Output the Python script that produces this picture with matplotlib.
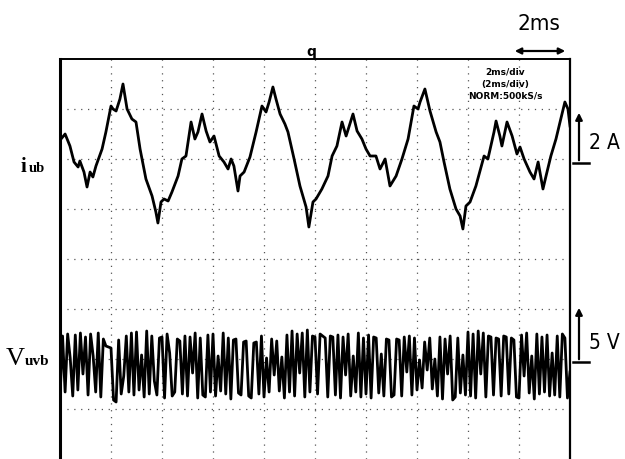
import numpy as np
import matplotlib
matplotlib.use("Agg")
import matplotlib.pyplot as plt

# ---------------- data ----------------
# time axis in ms (2 ms/div, 10 div)
t_i = [0.04, 0.20, 0.39, 0.55, 0.71, 0.78, 0.94, 1.06, 1.18, 1.29, 1.41, 1.65, 1.80, 2.00, 2.08,
       2.20, 2.35, 2.47, 2.63, 2.82, 2.98, 3.14, 3.37, 3.61, 3.76, 3.84, 3.96, 4.08, 4.24, 4.39,
       4.63, 4.78, 4.94, 5.14, 5.29, 5.41, 5.57, 5.73, 5.88, 6.04, 6.24, 6.43, 6.59, 6.71, 6.82,
       6.98, 7.06, 7.22, 7.45, 7.69, 7.92, 8.08, 8.20, 8.35, 8.47, 8.63, 8.82, 8.94, 9.18, 9.41,
       9.65, 9.76, 9.92, 10.04, 10.27, 10.51, 10.67, 10.86, 11.06, 11.22, 11.49, 11.65, 11.84, 12.00, 12.16,
       12.39, 12.55, 12.75, 12.94, 13.18, 13.41, 13.65, 13.88, 14.04, 14.12, 14.31, 14.51, 14.75, 14.90, 15.06,
       15.29, 15.53, 15.69, 15.80, 15.92, 16.08, 16.31, 16.63, 16.78, 17.02, 17.10, 17.25, 17.33, 17.53, 17.73,
       17.92, 18.04, 18.20, 18.43, 18.59, 18.75, 18.94, 19.06, 19.25, 19.45, 19.61, 19.80, 19.92, 20.00]
# branch current i_ub in A (2 A/div)
i_ub = [0.96, 1.16, 0.68, 0.04, -0.16, 0.08, -0.36, -0.96, -0.36, -0.56, -0.12, 0.56, 1.24, 2.28, 2.16,
        2.08, 2.56, 3.16, 2.16, 1.76, 1.64, 0.56, -0.64, -1.32, -1.96, -2.40, -1.56, -1.44, -1.52, -1.16,
        -0.52, 0.16, 0.28, 1.64, 0.96, 1.24, 1.96, 1.28, 0.84, 1.08, 0.28, 0.04, -0.24, 0.16, -0.12,
        -1.12, -0.52, -0.36, 0.24, 1.24, 2.28, 2.04, 2.44, 3.04, 2.56, 1.96, 1.56, 1.24, 0.16, -0.92,
        -1.76, -2.56, -1.56, -1.44, -1.04, -0.52, 0.28, 0.68, 1.64, 1.08, 1.96, 1.28, 0.96, 0.56, 0.28,
        0.28, -0.24, 0.16, -0.92, -0.52, 0.16, 0.96, 2.28, 2.16, 2.44, 2.96, 2.08, 1.24, 0.84, 0.04,
        -1.04, -1.84, -2.12, -2.64, -1.72, -1.56, -0.92, 0.28, 0.16, 1.24, 1.68, 1.08, 0.68, 1.64, 1.08,
        0.36, 0.64, 0.16, -0.36, -0.64, 0.04, -1.04, -0.52, 0.28, 0.96, 1.64, 2.44, 2.16, 1.48]

# voltage V_uvb in V (5 V/div), sampled every 0.1 ms
v_uvb = [-3.6, 2.6, -3.0, 2.8, 0.4, -3.4, 2.7, -2.8, 2.9, -1.2,
         2.5, -3.3, 2.8, 0.6, -3.0, 2.9, -3.5, 2.3, 1.6, 1.5,
         1.4, -3.8, -4.0, 2.2, -3.2, -1.4, 2.6, -3.0, 2.9, -3.3,
         3.0, -2.8, 0.7, -3.5, 3.1, -3.2, 2.6, -1.9, -3.3, 2.4,
         2.5, -3.6, 2.8, 0.9, -3.4, -3.0, 2.3, 2.1, -3.2, 2.6,
         -3.4, 2.5, -1.1, 2.9, -3.6, 2.4, -3.3, -3.5, 2.7, -3.0,
         2.8, -3.4, 0.6, -2.9, 2.9, -3.2, 2.4, -3.7, 2.2, 2.3,
         -3.1, -3.3, 2.0, 2.1, -3.4, -3.6, 1.9, 2.0, -3.2, 2.6,
         -3.5, 0.4, -3.0, 2.3, -1.3, 2.1, -2.9, 0.5, -3.6, 2.7,
         -3.0, 3.1, -3.4, 2.8, -1.1, 2.9, -3.5, 3.2, -3.0, 2.6,
         2.5, -3.2, 2.8, 2.6, 2.4, -3.5, 2.6, 2.5, -3.3, 2.7,
         -3.6, 2.5, -1.3, 2.8, -3.4, 0.6, -3.0, 2.9, -3.5, 2.4,
         -3.2, 2.7, -3.6, 2.5, 2.4, -3.1, 0.8, -3.4, 2.3, 2.2,
         -3.5, -3.3, 2.3, 2.2, -3.4, 2.5, -1.0, 2.6, -3.3, 2.4,
         -2.8, 0.2, -2.6, 2.0, -0.8, 2.4, -2.7, 0.3, -3.4, 2.5,
         -3.7, 2.3, -1.2, 2.6, -3.8, -3.5, 2.4, -3.1, 0.7, -3.3,
         3.0, -3.4, 2.8, -3.6, 3.1, -1.2, 2.9, -3.5, 2.6, 2.5,
         -3.3, 2.4, 2.3, -3.4, 2.6, 2.5, -3.2, 2.4, 2.2, -3.5,
         -3.6, 2.7, -1.4, 2.9, -3.1, 0.6, -3.7, 2.8, -3.2, 2.5,
         -3.0, 2.7, -3.4, 0.9, -3.3, 2.6, -3.5, 2.8, 2.4, -3.6,
         -1.0]
t_v = [0.1 * k for k in range(len(v_uvb))]

labels = {"i": ("i", "ub"), "v": ("V", "uvb")}
scale_i, scale_v = 2.0, 5.0          # per division
offset_i, offset_v = 5.92, 1.94      # channel ground positions (div)

# ---------------- figure ----------------
W, H = 625, 460
fig = plt.figure(figsize=(W / 100, H / 100), dpi=100)
fig.patch.set_facecolor("white")
ax = fig.add_axes([60 / W, 0.0, 510 / W, 400 / H])
ax.set_xlim(0, 20)
ax.set_ylim(0, 8)

# grid
for gx in np.arange(2, 20, 2):
    ax.plot([gx, gx], [0, 8], color="#555555", lw=0.9, ls=(0, (1, 4.5)), zorder=1)
for gy in range(1, 8):
    ax.plot([0, 20], [gy, gy], color="#555555", lw=0.9, ls=(0, (1, 4.5)), zorder=1)

ax.plot(t_i, np.array(i_ub) / scale_i + offset_i, color="black", lw=2.0, zorder=3)
ax.plot(t_v, np.array(v_uvb) / scale_v + offset_v, color="black", lw=2.0, zorder=3)

ax.set_xticks([]); ax.set_yticks([])
ax.spines["bottom"].set_visible(False)
ax.spines["left"].set_linewidth(2.2)
ax.spines["right"].set_linewidth(1.6)
ax.spines["top"].set_linewidth(1.4)

# in-screen annotations
ax.text(17.45, 8 - 12 / 50, "2ms/div", ha="center", va="center", fontsize=6.5, fontweight="bold")
ax.text(17.45, 8 - 24 / 50, "(2ms/div)", ha="center", va="center", fontsize=6.5, fontweight="bold")
ax.text(17.45, 8 - 36 / 50, "NORM:500kS/s", ha="center", va="center", fontsize=6.5, fontweight="bold")

def fp(x, y):
    return (x, H - y)

narrow = ["DejaVu Sans"]
serif = ["Liberation Serif", "DejaVu Serif"]

# trigger marker
fig.text(311 / W, (H - 52) / H, "q", ha="center", va="center", fontsize=10, fontweight="bold")

# time scale marker
fig.text(539 / W, (H - 24) / H, "2ms", ha="center", va="center", fontsize=16, family=narrow,
         fontstretch="condensed")
ax.annotate("", xy=fp(568, 52), xytext=fp(512, 52), xycoords="figure pixels",
            textcoords="figure pixels", annotation_clip=False,
            arrowprops=dict(arrowstyle="<|-|>", color="black", lw=1.6, mutation_scale=9))

# 2A marker
ax.annotate("", xy=fp(579, 111), xytext=fp(579, 164), xycoords="figure pixels",
            textcoords="figure pixels", annotation_clip=False,
            arrowprops=dict(arrowstyle="-|>", color="black", lw=1.6, mutation_scale=10))
fig.add_artist(plt.Line2D([573 / W, 589 / W], [(H - 164) / H] * 2, color="black", lw=1.8))
fig.text(589 / W, (H - 143) / H, "2 A", ha="left", va="center", fontsize=15, family=narrow,
         fontstretch="condensed")

# 5V marker
ax.annotate("", xy=fp(579, 306), xytext=fp(579, 363), xycoords="figure pixels",
            textcoords="figure pixels", annotation_clip=False,
            arrowprops=dict(arrowstyle="-|>", color="black", lw=1.6, mutation_scale=10))
fig.add_artist(plt.Line2D([573 / W, 589 / W], [(H - 363) / H] * 2, color="black", lw=1.8))
fig.text(589 / W, (H - 343) / H, "5 V", ha="left", va="center", fontsize=15, family=narrow,
         fontstretch="condensed")

# channel labels
fig.text(21 / W, (H - 172) / H, labels["i"][0], ha="left", va="baseline", fontsize=15,
         family=serif, fontweight="bold")
fig.text(29 / W, (H - 172) / H, labels["i"][1], ha="left", va="baseline", fontsize=10.5,
         family=serif, fontweight="bold")
fig.text(6 / W, (H - 365) / H, labels["v"][0], ha="left", va="baseline", fontsize=19,
         family=serif)
fig.text(25 / W, (H - 365) / H, labels["v"][1], ha="left", va="baseline", fontsize=11,
         family=serif, fontweight="bold")

fig.savefig("out.png", dpi=100)
